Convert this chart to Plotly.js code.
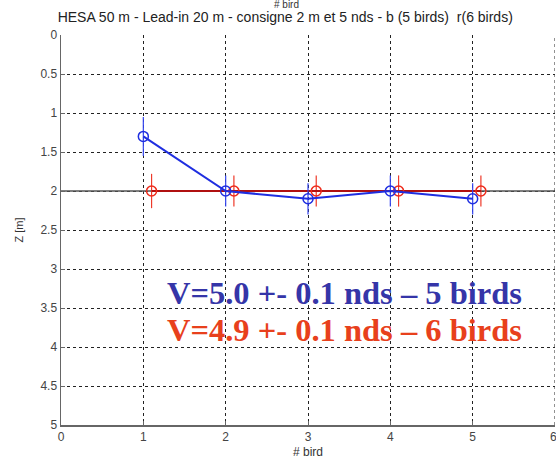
<!DOCTYPE html>
<html><head><meta charset="utf-8">
<script src="https://cdn.plot.ly/plotly-3.0.1.min.js"></script>
<style>body{margin:0;background:#fff}#c{width:556px;height:462px}</style>
</head><body><div id="c"></div>
<script>
const blueX = [1, 2, 3, 4, 5];
const blueZ = [1.3, 2.0, 2.1, 2.0, 2.1];
const blueErr = [0.25, 0.2, 0.2, 0.2, 0.2];
const redX = [1.1, 2.1, 3.1, 4.1, 5.1];
const redZ = [2.0, 2.0, 2.0, 2.0, 2.0];
const redErr = [0.22, 0.2, 0.2, 0.2, 0.2];
const refX = [0, 6];
const refZ = [2, 2];
const xTicks = [0, 1, 2, 3, 4, 5];
const yTicks = [0, 0.5, 1, 1.5, 2, 2.5, 3, 3.5, 4, 4.5, 5];
const titleText = "HESA 50 m - Lead-in 20 m - consigne 2 m et 5 nds - b (5 birds)  r(6 birds)";
const blueLabel = "V=5.0 +- 0.1 nds \u2013 5 birds";
const redLabel = "V=4.9 +- 0.1 nds \u2013 6 birds";

const traces = [
  {x: refX, y: refZ, mode: 'lines', line: {color: '#555', width: 1.5}, hoverinfo: 'skip'},
  {x: redX, y: redZ, mode: 'lines+markers',
   line: {color: '#b01010', width: 2},
   marker: {symbol: 'circle-open', size: 10, color: '#ee2a1a', line: {width: 1.5}},
   error_y: {type: 'data', array: redErr, visible: true, color: '#ee3a2a', thickness: 1.2, width: 0}},
  {x: blueX, y: blueZ, mode: 'lines+markers',
   line: {color: '#1f2ee0', width: 2},
   marker: {symbol: 'circle-open', size: 10, color: '#1f2ee0', line: {width: 1.5}},
   error_y: {type: 'data', array: blueErr, visible: true, color: '#3344ee', thickness: 1.2, width: 0}}
];

const layout = {
  width: 556, height: 462,
  margin: {l: 61, r: 1, t: 35, b: 37},
  paper_bgcolor: '#fff', plot_bgcolor: '#fff',
  showlegend: false,
  font: {family: 'Liberation Sans, Arial, sans-serif', size: 11, color: '#333'},
  title: {text: titleText, font: {size: 14, color: '#222'}, xref: 'container', x: 0.513, xanchor: 'center', yref: 'container', y: 0.963, yanchor: 'middle'},
  xaxis: {
    range: [0, 6], tickvals: xTicks, ticktext: xTicks.map(String),
    showgrid: true, gridcolor: '#222', griddash: '3px,3px', gridwidth: 1,
    zeroline: false, showline: true, linecolor: '#666', linewidth: 1.5,
    ticks: 'inside', ticklen: 4, tickcolor: '#666',
    tickfont: {size: 12, color: '#444'},
    title: {text: '# bird', font: {size: 12, color: '#333'}, standoff: 4}
  },
  yaxis: {
    range: [5, 0], tickvals: yTicks, ticktext: yTicks.map(String),
    showgrid: true, gridcolor: '#222', griddash: '3px,3px', gridwidth: 1,
    zeroline: false, showline: true, linecolor: '#666', linewidth: 1.5,
    ticks: 'inside', ticklen: 4, tickcolor: '#666',
    tickfont: {size: 12, color: '#444'},
    title: {text: 'Z [m]', font: {size: 11, color: '#333'}, standoff: 14}
  },
  shapes: [
    {type: 'line', xref: 'x', yref: 'paper', x0: 6, x1: 6, y0: 0, y1: 1,
     line: {color: '#222', width: 1, dash: '3px,3px'}}
  ],
  annotations: [
    {xref: 'paper', yref: 'paper', x: 0.457, y: 1, yanchor: 'bottom', yshift: 23, text: '# bird', showarrow: false,
     font: {size: 10, color: '#333'}},
    {xref: 'x', yref: 'paper', x: 6, y: 0, yanchor: 'top', yshift: -3, xshift: -2, text: '6', showarrow: false,
     font: {size: 12, color: '#444'}},
    {xref: 'x', yref: 'y', x: 3.44, y: 3.31, text: '<b>' + blueLabel + '</b>', showarrow: false,
     font: {family: 'Liberation Serif, Times New Roman, serif', size: 32.5, color: '#3535a8'}, xanchor: 'center'},
    {xref: 'x', yref: 'y', x: 3.44, y: 3.78, text: '<b>' + redLabel + '</b>', showarrow: false,
     font: {family: 'Liberation Serif, Times New Roman, serif', size: 32.5, color: '#e8401c'}, xanchor: 'center'}
  ]
};
Plotly.newPlot('c', traces, layout, {staticPlot: true});
</script></body></html>
